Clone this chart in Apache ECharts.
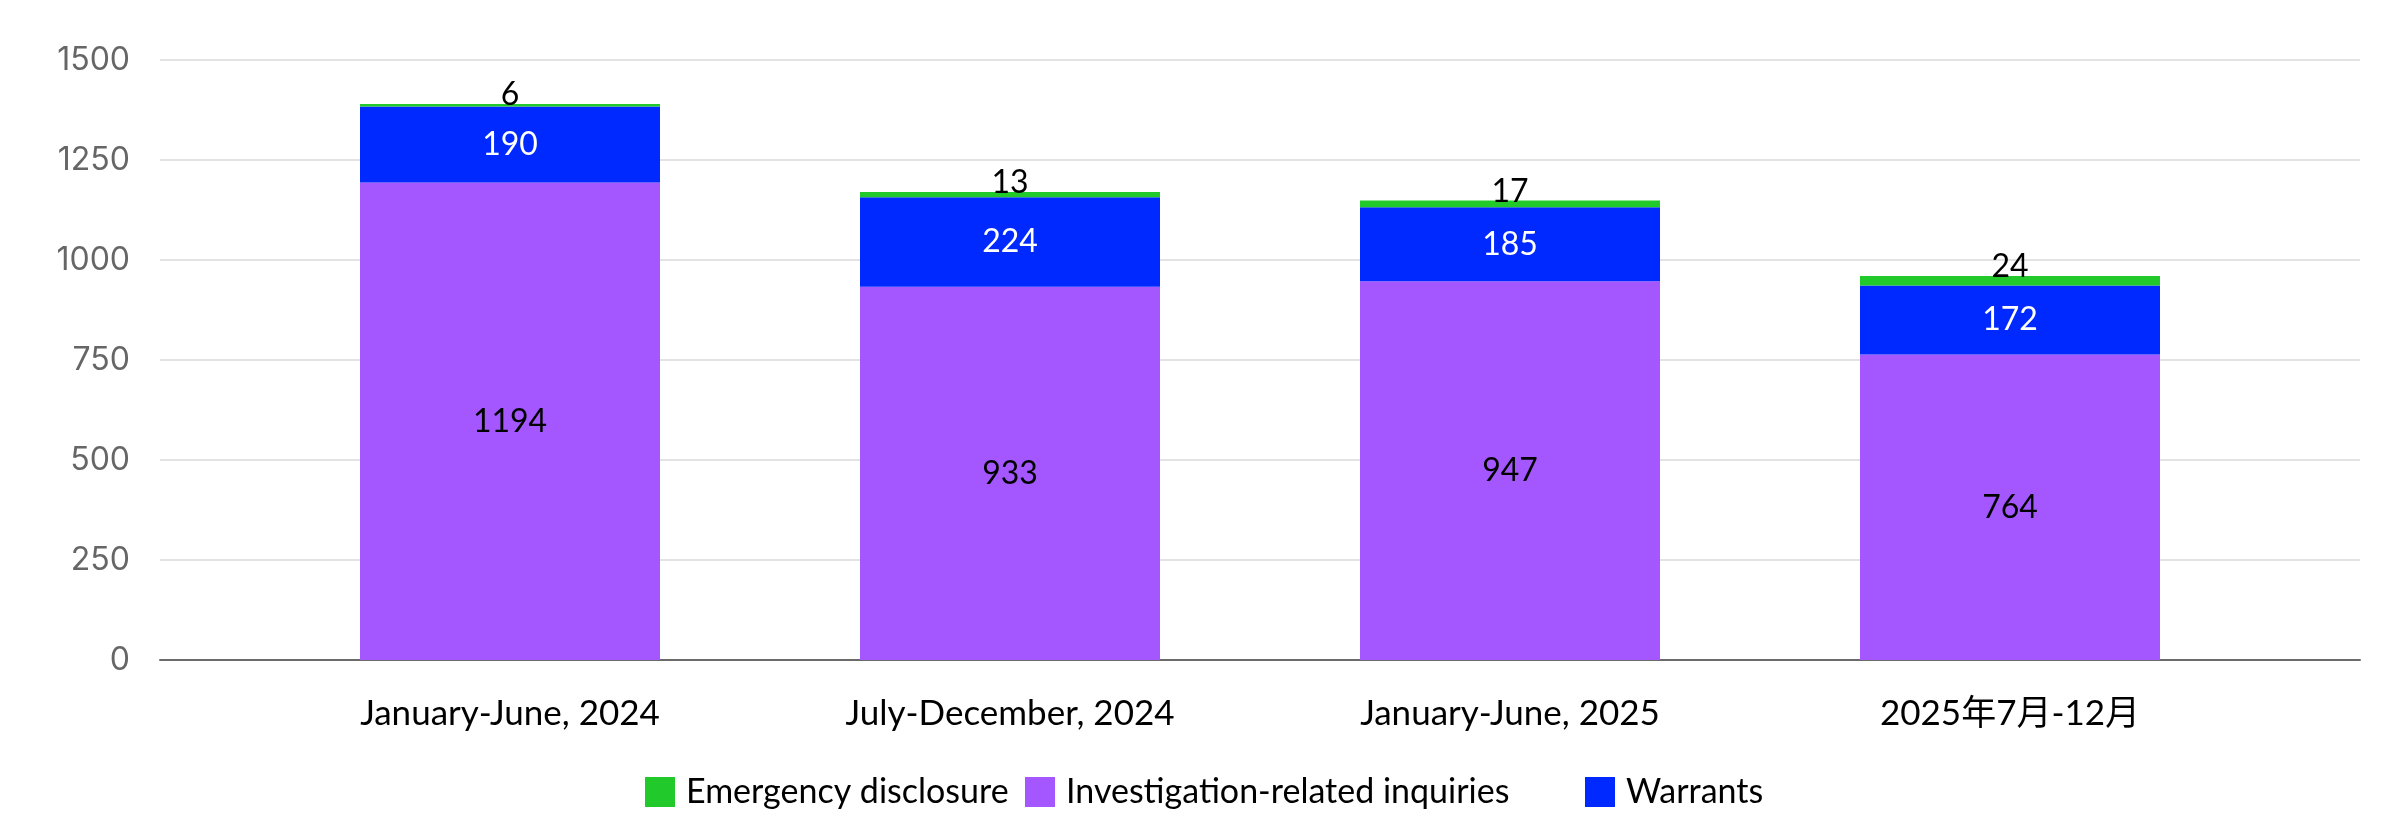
<!DOCTYPE html>
<html lang="en">
    <head>
        <meta charset="UTF-8">
        <title>Requests</title>
        <script src="https://cdn.jsdelivr.net/npm/echarts@6/dist/echarts.min.js"></script>
        <style type="text/css">
            html, body { margin: 0; padding: 0; background: #fff; }
        </style>
    </head>
    <body>
        <div id="main" style="width: 2400px;height:840px;"></div>
    </body>

    <script type="text/javascript">
        // data
        var periods = ['January-June, 2024', 'July-December, 2024', 'January-June, 2025', '2025年7月-12月'];
        var inquiries = [1194, 933, 947, 764];
        var warrants = [190, 224, 185, 172];
        var emergency = [6, 13, 17, 24];
        var yTicks = [0, 250, 500, 750, 1000, 1250, 1500];

        var font = 'Lato, "Noto Sans CJK SC", sans-serif';
        var green = '#22C92A', purple = '#A557FF', blue = '#0029FF';

        var myChart = echarts.init(document.getElementById('main'));

        function legendAt(name, left) {
            return {
                data: [name],
                left: left,
                top: 770,
                itemWidth: 30,
                itemHeight: 30,
                icon: 'rect',
                selectedMode: false,
                textStyle: { fontFamily: font, fontSize: 34, color: '#000', padding: [0, 0, 0, 6] }
            };
        }

        myChart.setOption({
            animation: false,
            legend: [
                legendAt('Emergency disclosure', 640),
                legendAt('Investigation-related inquiries', 1020),
                legendAt('Warrants', 1580)
            ],
            grid: [
                // full width grid: y labels, split lines, base line
                { left: 160, right: 40, top: 60, bottom: 180 },
                // bar grid
                { left: 260, right: 140, top: 60, bottom: 180 }
            ],
            xAxis: [
                {
                    gridIndex: 0, type: 'value', min: 0, max: 1,
                    axisLine: { show: true, lineStyle: { color: '#6b6b6b', width: 2 } },
                    axisTick: { show: false }, axisLabel: { show: false }, splitLine: { show: false }
                },
                {
                    gridIndex: 1, type: 'category', data: periods,
                    axisLine: { show: false }, axisTick: { show: false },
                    axisLabel: { fontFamily: font, fontSize: 35, color: '#000', margin: 36 }
                }
            ],
            yAxis: [
                {
                    gridIndex: 0, type: 'value',
                    min: yTicks[0], max: yTicks[yTicks.length - 1], interval: 250,
                    axisLine: { show: false }, axisTick: { show: false },
                    axisLabel: {
                        fontFamily: 'Inter, sans-serif', fontSize: 32, color: '#666', margin: 30,
                        formatter: function (v) { return String(v); }
                    },
                    splitLine: { lineStyle: { color: '#e3e3e3', width: 2 } }
                },
                {
                    gridIndex: 1, type: 'value',
                    min: yTicks[0], max: yTicks[yTicks.length - 1], interval: 250,
                    show: false
                }
            ],
            series: [
                {
                    name: 'Investigation-related inquiries', type: 'bar', stack: 'total',
                    xAxisIndex: 1, yAxisIndex: 1, barWidth: 300,
                    itemStyle: { color: purple },
                    label: { show: true, position: 'inside', fontFamily: font, fontSize: 32, color: '#000' },
                    data: inquiries
                },
                {
                    name: 'Warrants', type: 'bar', stack: 'total',
                    xAxisIndex: 1, yAxisIndex: 1, barWidth: 300,
                    itemStyle: { color: blue },
                    label: { show: true, position: 'inside', fontFamily: font, fontSize: 32, color: '#fff' },
                    data: warrants
                },
                {
                    name: 'Emergency disclosure', type: 'bar', stack: 'total',
                    xAxisIndex: 1, yAxisIndex: 1, barWidth: 300,
                    itemStyle: { color: green },
                    label: { show: true, position: 'top', distance: -7, fontFamily: font, fontSize: 32, color: '#000' },
                    data: emergency
                }
            ]
        });
    </script>
</html>
